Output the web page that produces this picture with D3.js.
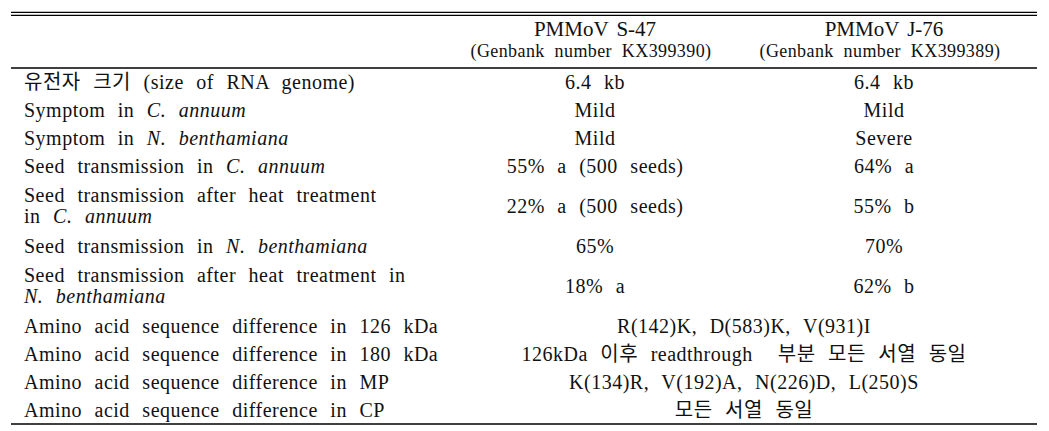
<!DOCTYPE html>
<html>
<head>
<meta charset="utf-8">
<script src="https://cdn.jsdelivr.net/npm/d3@7"></script>
<style>
  body { margin: 0; background: #fff; }
  text { font-family: "Liberation Serif", "Noto Sans CJK KR", serif; fill: #111; white-space: pre; }
</style>
</head>
<body>
<svg width="1049" height="431"></svg>
<script>
// strain columns
let strains = ['PMMoV S-47', 'PMMoV J-76'];
let genbank = ['(Genbank number KX399390)', '(Genbank number KX399389)'];

// row labels, '|' = line break, *...* = italic
let rowLabels = [
  '유전자 크기 (size of RNA genome)',
  'Symptom in *C. annuum*',
  'Symptom in *N. benthamiana*',
  'Seed transmission in *C. annuum*',
  'Seed transmission after heat treatment|in *C. annuum*',
  'Seed transmission in *N. benthamiana*',
  'Seed transmission after heat treatment in|*N. benthamiana*',
  'Amino acid sequence difference in 126 kDa',
  'Amino acid sequence difference in 180 kDa',
  'Amino acid sequence difference in MP',
  'Amino acid sequence difference in CP'
];
let s47Values = ['6.4 kb', 'Mild', 'Mild', '55% a (500 seeds)', '22% a (500 seeds)', '65%', '18% a', null, null, null, null];
let j76Values = ['6.4 kb', 'Mild', 'Severe', '64% a', '55% b', '70%', '62% b', null, null, null, null];
let mergedValues = [null, null, null, null, null, null, null,
  'R(142)K, D(583)K, V(931)I',
  '126kDa 이후 readthrough  부분 모든 서열 동일',
  'K(134)R, V(192)A, N(226)D, L(250)S',
  '모든 서열 동일'];

let svg = d3.select('svg');

let colX = d3.scaleOrdinal()
  .domain(['label', 'S-47', 'J-76', 'merged'])
  .range([24, 595, 884, 744]);

// row heights from line count
let heights = rowLabels.map(l => 28 + (l.split('|').length - 1) * 24);
let tops = [0].concat(Array.from(d3.cumsum(heights)));
let tableTop = 68;
let rowY = d3.scaleLinear().domain([0, d3.sum(heights)]).range([tableTop, tableTop + d3.sum(heights)]);

// rules
let x0 = 11, x1 = 1037;
[12.3, 15.3, tableTop, rowY(d3.sum(heights))].forEach(y => {
  svg.append('line')
    .attr('x1', x0).attr('x2', x1)
    .attr('y1', y).attr('y2', y)
    .attr('stroke', '#000')
    .attr('stroke-width', 1.3);
});

// header
svg.selectAll('.strain')
  .data(strains)
  .enter()
  .append('text')
  .attr('x', (d, i) => colX(i ? 'J-76' : 'S-47'))
  .attr('y', 36)
  .attr('text-anchor', 'middle')
  .style('font-size', '21px')
  .style('word-spacing', '3px')
  .text(d => d);

svg.selectAll('.genbank')
  .data(genbank)
  .enter()
  .append('text')
  .attr('x', (d, i) => colX(i ? 'J-76' : 'S-47') - 4)
  .attr('y', 57)
  .attr('text-anchor', 'middle')
  .style('font-size', '18px')
  .style('letter-spacing', '0.4px')
  .style('word-spacing', '5px')
  .text(d => d);

function bodyText(sel) {
  return sel
    .style('font-size', '20px')
    .style('letter-spacing', '0.5px')
    .style('word-spacing', '7px');
}

// labels
rowLabels.forEach((label, r) => {
  let lines = label.split('|');
  let cy = rowY((tops[r] + tops[r + 1]) / 2);
  lines.forEach((line, k) => {
    let t = svg.append('text')
      .attr('x', colX('label'))
      .attr('y', cy + 6.5 + (k - (lines.length - 1) / 2) * 20.5)
      .call(bodyText);
    line.split('*').forEach((seg, j) => {
      if (!seg) return;
      t.append('tspan')
        .style('font-style', j % 2 ? 'italic' : 'normal')
        .text(seg);
    });
  });
});

// values
function addValues(values, col) {
  values.forEach((v, r) => {
    if (v == null) return;
    let cy = rowY((tops[r] + tops[r + 1]) / 2);
    svg.append('text')
      .attr('x', colX(col))
      .attr('y', cy + 6.5)
      .attr('text-anchor', 'middle')
      .call(bodyText)
      .text(v);
  });
}
addValues(s47Values, 'S-47');
addValues(j76Values, 'J-76');
addValues(mergedValues, 'merged');
</script>
</body>
</html>
